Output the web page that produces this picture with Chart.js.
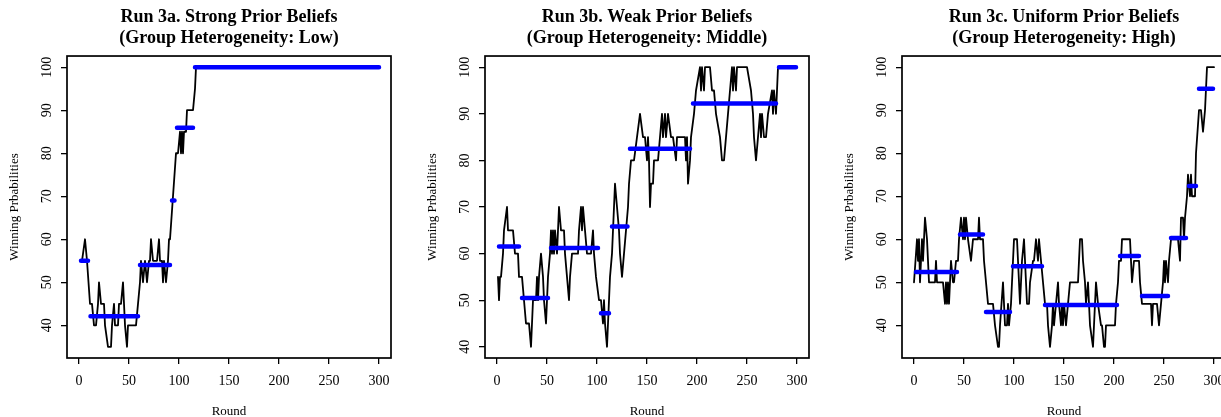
<!DOCTYPE html>
<html>
<head>
<meta charset="utf-8">
<title>Run 3 winning probabilities</title>
<script src="https://cdn.jsdelivr.net/npm/chart.js@4.4.1/dist/chart.umd.min.js"></script>
<style>
  body { margin: 0; background: #fff; width: 1221px; height: 417px; overflow: hidden; position: relative; }
  .panel { position: absolute; top: 0; }
</style>
</head>
<body>
<div class="panel" style="left:0px"><canvas id="run3a" width="403" height="417"></canvas></div>
<div class="panel" style="left:418px"><canvas id="run3b" width="403" height="417"></canvas></div>
<div class="panel" style="left:835px"><canvas id="run3c" width="403" height="417"></canvas></div>
<script>
// axis text
const roundTicks = [0, 50, 100, 150, 200, 250, 300];
const probTicks = [40, 50, 60, 70, 80, 90, 100];
const xTitle = 'Round';
const yTitle = 'Winning Prbabilities';

// Run 3a - strong priors
const run3aTitle = ['Run 3a. Strong Prior Beliefs', '(Group Heterogeneity: Low)'];
const run3aRound = [1,3,6,8,11,13,15,17,19,20,22,25,26,29,32,33,35,36,39,40,42,44,45,46,48,49,57,59,61,62,64,66,68,70,71,72,74,78,80,81,83,84,85,87,89,90,91,94,97,99,101,102,103,104,105,107,108,114,116,117,300];
const run3aProb  = [55,55,60,55,45,45,40,40,45,50,45,45,40,35,35,40,45,40,40,45,45,50,45,40,35,40,40,45,50,55,50,55,50,55,55,60,55,55,60,55,55,50,55,50,55,60,60,70,80,80,85,80,85,80,85,85,90,90,95,100,100];
const run3aSegStart = [2, 11.5, 61, 93, 98, 116];
const run3aSegEnd   = [9, 59, 91, 95.5, 114, 300];
const run3aSegLevel = [55, 42.1, 54, 69, 85.9, 100];

// Run 3b - weak priors
const run3bTitle = ['Run 3b. Weak Prior Beliefs', '(Group Heterogeneity: Middle)'];
const run3bRound = [1,2,3,4,6,7,10,11,16,18,21,22,25,27,29,32,34,35,36,39,40,41,42,44,46,47,49,50,51,53,54,55,56,57,58,60,61,62,64,67,68,70,72,73,75,81,82,84,85,86,88,90,94,96,97,99,102,104,106,107,108,110,111,112,113,115,116,117,118,120,122,123,125,127,129,131,132,134,137,140,143,146,148,150,151,152,153,154,156,157,161,163,165,166,168,169,171,174,176,179,180,188,189,190,191,193,194,197,199,203,204,205,207,208,213,215,217,219,223,225,227,229,231,233,235,236,237,239,240,250,254,256,257,259,261,263,264,265,267,269,271,275,276,277,279,281,300];
const run3bProb  = [55,50,55,55,60,65,70,65,65,60,60,55,55,50,45,45,40,45,50,50,55,50,55,60,55,50,45,50,55,60,65,60,65,60,65,60,65,70,65,65,60,55,50,55,60,60,65,70,65,70,65,60,60,65,60,55,50,50,45,50,45,40,45,50,55,60,65,70,75,70,65,60,55,60,65,70,75,80,80,85,90,85,85,80,85,80,70,75,75,80,80,85,90,85,90,85,90,85,85,80,85,85,80,85,75,80,85,90,95,100,95,100,95,100,100,95,95,90,85,80,80,85,90,95,100,95,100,95,100,100,95,90,85,80,85,90,85,90,85,85,90,95,90,95,90,100,100];
const run3bSegStart = [2, 25, 54, 104, 115, 133, 196, 282];
const run3bSegEnd   = [22, 51, 101, 112, 130.5, 193, 279, 299];
const run3bSegLevel = [61.5, 50.5, 61.2, 47.2, 65.8, 82.5, 92.2, 100];

// Run 3c - uniform priors
const run3cTitle = ['Run 3c. Uniform Prior Beliefs', '(Group Heterogeneity: High)'];
const run3cRound = [0,3,4,5,6,7,8,9,11,13,14,15,21,22,23,29,31,32,33,34,35,36,37,39,40,42,44,45,47,49,50,51,52,54,57,59,64,65,66,69,70,72,74,79,81,84,85,86,89,90,91,93,94,95,97,98,99,100,103,104,106,108,110,111,113,115,116,119,120,122,124,125,127,129,131,133,134,136,138,139,140,142,144,145,147,148,149,150,152,154,156,164,165,166,168,169,171,172,174,176,179,181,182,184,187,188,190,191,192,201,202,204,205,207,208,216,217,218,220,225,226,228,237,238,239,243,245,247,249,250,251,252,254,255,257,264,266,267,269,270,271,273,274,276,277,278,281,282,285,287,289,291,292,293,300];
const run3cProb  = [50,60,55,60,50,55,60,55,65,60,55,50,50,55,50,50,45,50,45,50,45,50,55,50,50,55,55,60,65,60,65,60,65,60,55,60,60,65,60,60,55,50,45,45,40,35,35,40,50,45,40,40,45,40,45,50,55,60,60,55,45,55,60,55,45,45,50,55,55,60,55,60,55,50,45,45,40,35,40,45,40,45,50,45,40,45,40,45,40,45,50,50,55,60,60,55,50,45,50,40,35,45,50,45,40,40,35,35,40,40,45,50,55,55,60,60,55,50,55,55,50,45,45,40,45,45,40,45,50,55,50,55,50,55,60,60,55,65,65,60,65,70,75,70,75,70,70,80,90,90,85,90,95,100,100];
const run3cSegStart = [2, 46, 72, 99, 131, 206, 228, 257, 275, 285];
const run3cSegEnd   = [43, 69, 96, 128, 203, 225, 254, 272, 282, 299];
const run3cSegLevel = [52.4, 61.1, 43.1, 53.7, 44.7, 56.1, 46.8, 60.3, 72.4, 95];

const serif = '"Liberation Serif", "Times New Roman", serif';

// box around the plot region, like R's bty="o"
const plotFrame = {
  id: 'plotFrame',
  afterDraw(chart) {
    const { ctx, chartArea: a } = chart;
    ctx.save();
    ctx.strokeStyle = '#000';
    ctx.lineWidth = 1.7;
    ctx.strokeRect(a.left, a.top, a.right - a.left, a.bottom - a.top);
    ctx.restore();
  }
};

// rotated y tick labels and the two axis titles
const axisText = {
  id: 'axisText',
  afterDraw(chart) {
    const { ctx, chartArea: a, scales: { y } } = chart;
    ctx.save();
    ctx.fillStyle = '#000';
    ctx.textAlign = 'center';
    ctx.textBaseline = 'alphabetic';
    ctx.font = '14px ' + serif;
    y.ticks.forEach(t => {
      ctx.save();
      ctx.translate(a.left - 16.5, y.getPixelForValue(t.value));
      ctx.rotate(-Math.PI / 2);
      ctx.fillText(String(t.value), 0, 0);
      ctx.restore();
    });
    ctx.font = '13px ' + serif;
    ctx.save();
    ctx.translate(a.left - 49.5, (a.top + a.bottom) / 2);
    ctx.rotate(-Math.PI / 2);
    ctx.fillText(yTitle, 0, 0);
    ctx.restore();
    ctx.fillText(xTitle, (a.left + a.right) / 2, chart.height - 2);
    ctx.restore();
  }
};

function toPoints(rounds, probs) {
  return rounds.map((r, i) => ({ x: r, y: probs[i] }));
}

// period means: one flat piece per period, broken by a null point
function toSegments(starts, ends, levels) {
  const pts = [];
  starts.forEach((s, i) => {
    pts.push({ x: s, y: levels[i] });
    pts.push({ x: ends[i], y: levels[i] });
    pts.push({ x: ends[i], y: null });
  });
  return pts;
}

function tickAxis(min, max, ticks, size) {
  return {
    type: 'linear',
    min: min,
    max: max,
    afterBuildTicks: s => { s.ticks = ticks.map(v => ({ value: v })); },
    afterFit: s => { if (s.isHorizontal()) s.height = size; else s.width = size; },
    grid: { drawOnChartArea: false, drawTicks: true, tickLength: 6, color: '#000', lineWidth: 1.3 },
    border: { display: false },
    ticks: { color: '#000', font: { family: serif, size: 14 }, padding: 9, maxRotation: 0, autoSkip: false }
  };
}

function makeRun(id, title, rounds, probs, segStart, segEnd, segLevel, yMin, yMax) {
  const ctx = document.getElementById(id).getContext('2d');
  const y = tickAxis(yMin, yMax, probTicks, 67);
  y.ticks = { display: false };
  return new Chart(ctx, {
    type: 'line',
    data: {
      datasets: [
        {
          data: toSegments(segStart, segEnd, segLevel),
          borderColor: '#0000ff',
          borderWidth: 4.5,
          borderCapStyle: 'round',
          pointRadius: 0,
          spanGaps: false,
          order: 0
        },
        {
          data: toPoints(rounds, probs),
          borderColor: '#000',
          borderWidth: 1.8,
          borderJoinStyle: 'round',
          borderCapStyle: 'round',
          pointRadius: 0,
          tension: 0,
          order: 1
        }
      ]
    },
    options: {
      responsive: false,
      animation: false,
      events: [],
      layout: { padding: { top: 0, right: 12, bottom: 0, left: 0 } },
      scales: {
        x: tickAxis(-12, 312, roundTicks, 59),
        y: y
      },
      plugins: {
        legend: { display: false },
        tooltip: { enabled: false },
        title: {
          display: true,
          fullSize: false,
          text: title,
          color: '#000',
          font: { family: serif, size: 18, weight: 'bold', lineHeight: 1.17 },
          padding: { top: 7, bottom: 6.9 }
        }
      }
    },
    plugins: [plotFrame, axisText]
  });
}

makeRun('run3a', run3aTitle, run3aRound, run3aProb, run3aSegStart, run3aSegEnd, run3aSegLevel, 32.4, 102.6);
makeRun('run3b', run3bTitle, run3bRound, run3bProb, run3bSegStart, run3bSegEnd, run3bSegLevel, 37.6, 102.4);
makeRun('run3c', run3cTitle, run3cRound, run3cProb, run3cSegStart, run3cSegEnd, run3cSegLevel, 32.4, 102.6);
</script>
</body>
</html>
